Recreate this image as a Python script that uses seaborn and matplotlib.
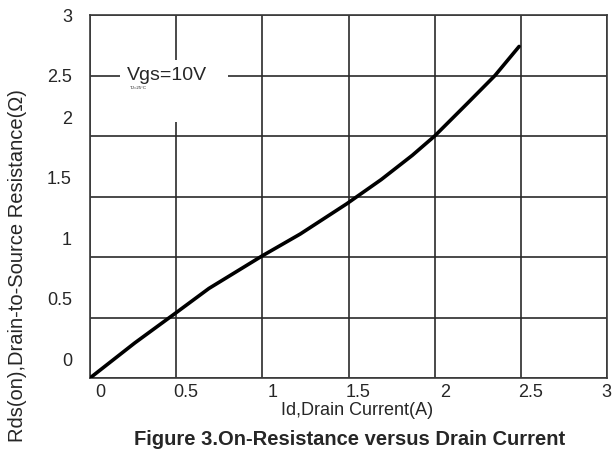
import matplotlib
matplotlib.use("Agg")
import matplotlib.pyplot as plt
from matplotlib.patches import Rectangle
from matplotlib.transforms import ScaledTranslation
import pandas as pd
import seaborn as sns

# data
drain_current = [0, 0.26, 0.50, 0.69, 1.00, 1.22, 1.49, 1.69, 1.87, 2.00, 2.19, 2.35, 2.49]
rds_on = [0, 0.29, 0.54, 0.74, 1.01, 1.19, 1.44, 1.64, 1.84, 2.00, 2.27, 2.50, 2.74]
x_ticks = [0, 0.5, 1, 1.5, 2, 2.5, 3]
y_ticks = [0, 0.5, 1, 1.5, 2, 2.5, 3]
x_labels = ["0", "0.5", "1", "1.5", "2", "2.5", "3"]
y_labels = ["0", "0.5", "1", "1.5", "2", "2.5", "3"]

df = pd.DataFrame({"Id": drain_current, "Rds": rds_on})

sns.set_style("white")
plt.rcParams["font.family"] = ["Liberation Sans", "DejaVu Sans"]

fig = plt.figure(figsize=(6.13, 4.63), dpi=100)
ax = fig.add_axes([90 / 613, 85 / 463, 517 / 613, 363 / 463])

sns.lineplot(data=df, x="Id", y="Rds", ax=ax, color="black", linewidth=2.6,
             zorder=5, solid_capstyle="round", solid_joinstyle="round")

ax.set_xlim(0, 3)
ax.set_ylim(0, 3)
ax.set_xticks(x_ticks)
ax.set_yticks(y_ticks)
ax.set_xticklabels(x_labels)
ax.set_yticklabels(y_labels)
ax.grid(True, color="#2a2a2a", linewidth=1.2)
ax.set_axisbelow(True)
for s in ax.spines.values():
    s.set_color("#3a3a3a")
    s.set_linewidth(1.2)

ax.tick_params(axis="x", length=0, pad=4, labelsize=13)
ax.tick_params(axis="y", length=0, pad=13, labelsize=13)

# labels in the scan sit off the grid lines
for v, lab in zip(x_ticks, ax.get_xticklabels()):
    dx = 0.10 if v < 3 else -0.01
    lab.set_transform(lab.get_transform() + ScaledTranslation(dx, 0, fig.dpi_scale_trans))
for v, lab in zip(y_ticks, ax.get_yticklabels()):
    dy = 0.19 if v <= 2 else 0
    lab.set_transform(lab.get_transform() + ScaledTranslation(0, dy, fig.dpi_scale_trans))

# white box behind the annotation
ax.add_patch(Rectangle((0.175, 2.115), 0.625, 0.515, facecolor="white",
                       edgecolor="none", zorder=3))
ax.text(0.447, 2.5, "Vgs=10V", fontsize=14, ha="center", va="center", zorder=6)
ax.text(0.278, 2.395, "TJ=25°C", fontsize=3.2, ha="center", va="center", zorder=6)

ax.set_xlabel("Id,Drain Current(A)", fontsize=13, labelpad=3)
ax.xaxis.set_label_coords(0.516, -0.065)
ax.set_ylabel("Rds(on),Drain-to-Source Resistance(Ω)", fontsize=14.5)
ax.yaxis.set_label_coords(-0.122, 0.31)

fig.text(0.571, 0.05, "Figure 3.On-Resistance versus Drain Current",
         fontsize=14.5, fontweight="bold", ha="center", va="center")

fig.savefig("out.png", dpi=100)
